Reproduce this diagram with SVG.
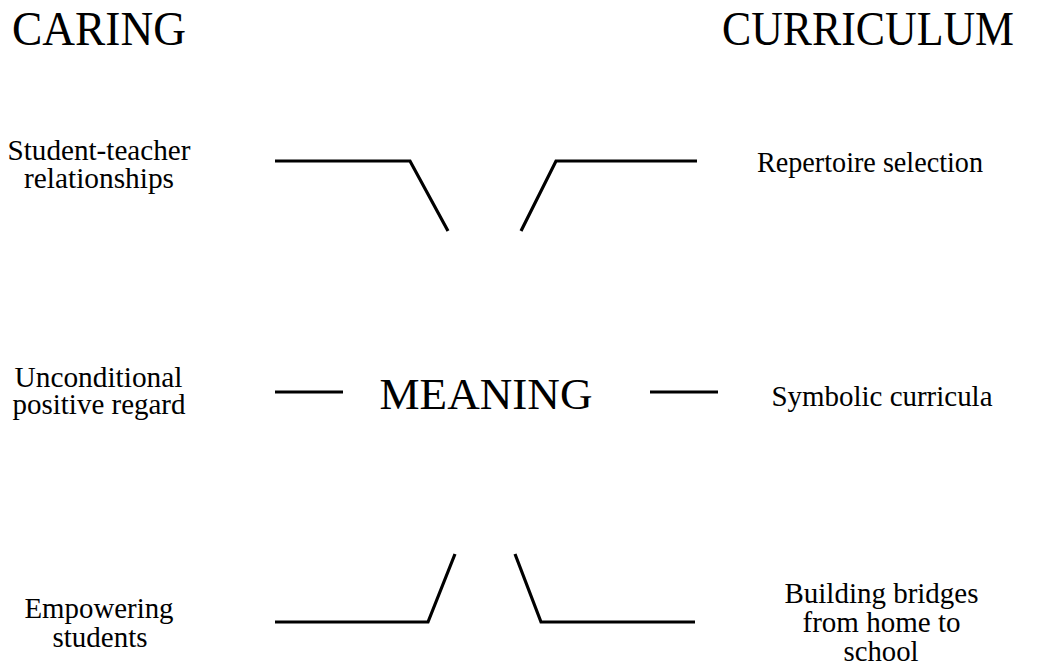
<svg xmlns="http://www.w3.org/2000/svg" width="1039" height="664" viewBox="0 0 1039 664">
<style>
text { font-family: "Liberation Serif", "Times New Roman", serif; fill: #000; text-anchor: middle; }
.h { font-size: 48px; }
.t { font-size: 30px; }
.m { font-size: 45px; }
.c { fill: none; stroke: #000; stroke-width: 3.2; stroke-linejoin: miter; }
</style>
<rect width="1039" height="664" fill="#fff"/>
<g id="caring"><text class="h" x="99" y="45" textLength="174" lengthAdjust="spacingAndGlyphs">CARING</text></g>
<g id="curriculum"><text class="h" x="868" y="45" textLength="292" lengthAdjust="spacingAndGlyphs">CURRICULUM</text></g>
<g id="student-teacher"><text class="t" x="99" y="160" textLength="183" lengthAdjust="spacingAndGlyphs">Student-teacher</text><text class="t" x="99" y="188" textLength="150" lengthAdjust="spacingAndGlyphs">relationships</text></g>
<g id="unconditional"><text class="t" x="98.5" y="387" textLength="168" lengthAdjust="spacingAndGlyphs">Unconditional</text><text class="t" x="99" y="414" textLength="173" lengthAdjust="spacingAndGlyphs">positive regard</text></g>
<g id="empowering"><text class="t" x="99" y="618" textLength="149" lengthAdjust="spacingAndGlyphs">Empowering</text><text class="t" x="100" y="647" textLength="95" lengthAdjust="spacingAndGlyphs">students</text></g>
<g id="repertoire"><text class="t" x="870" y="172" textLength="226" lengthAdjust="spacingAndGlyphs">Repertoire selection</text></g>
<g id="symbolic"><text class="t" x="882" y="406" textLength="221" lengthAdjust="spacingAndGlyphs">Symbolic curricula</text></g>
<g id="bridges"><text class="t" x="881.5" y="603" textLength="194" lengthAdjust="spacingAndGlyphs">Building bridges</text><text class="t" x="881.5" y="632" textLength="158" lengthAdjust="spacingAndGlyphs">from home to</text><text class="t" x="881" y="661" textLength="75" lengthAdjust="spacingAndGlyphs">school</text></g>
<g id="meaning"><text class="m" x="486" y="409" textLength="213" lengthAdjust="spacingAndGlyphs">MEANING</text></g>
<g id="connectors">
<polyline class="c" points="275,161 410,161 448,231"/>
<polyline class="c" points="521,231 556,161 697,161"/>
<line class="c" x1="275" y1="392" x2="343" y2="392"/>
<line class="c" x1="650" y1="392" x2="718" y2="392"/>
<polyline class="c" points="275,622 428,622 455,554"/>
<polyline class="c" points="515,554 541,622 695,622"/>
</g>
</svg>
